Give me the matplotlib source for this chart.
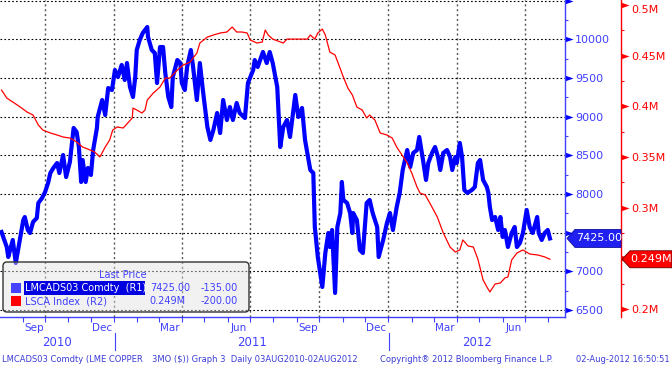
import matplotlib
matplotlib.use('Agg')
import numpy as np
import pandas as pd
import matplotlib.pyplot as plt
import matplotlib.dates as mdates
from matplotlib.patches import Rectangle, Polygon, FancyBboxPatch
from matplotlib.ticker import FixedLocator, FuncFormatter, NullFormatter
from matplotlib.transforms import IdentityTransform

# LME copper 3M price (USD/t)
copper_dates = [
    '2010-08-03', '2010-08-10', '2010-08-12', '2010-08-18', '2010-08-22', '2010-08-25', '2010-08-28',
    '2010-09-01', '2010-09-03', '2010-09-07', '2010-09-10', '2010-09-14', '2010-09-19', '2010-09-21',
    '2010-09-26', '2010-09-30', '2010-10-04', '2010-10-07', '2010-10-11', '2010-10-16', '2010-10-19',
    '2010-10-24', '2010-10-28', '2010-11-02', '2010-11-07', '2010-11-11', '2010-11-14', '2010-11-17',
    '2010-11-19', '2010-11-23', '2010-11-26', '2010-11-30', '2010-12-03', '2010-12-08', '2010-12-09',
    '2010-12-15', '2010-12-19', '2010-12-23', '2010-12-28', '2011-01-01', '2011-01-05', '2011-01-10',
    '2011-01-14', '2011-01-17', '2011-01-21', '2011-01-25', '2011-01-28', '2011-01-30', '2011-02-03',
    '2011-02-07', '2011-02-13', '2011-02-14', '2011-02-19', '2011-02-23', '2011-02-26', '2011-03-02',
    '2011-03-06', '2011-03-09', '2011-03-13', '2011-03-17', '2011-03-19', '2011-03-25', '2011-03-29',
    '2011-03-31', '2011-04-04', '2011-04-07', '2011-04-12', '2011-04-15', '2011-04-20', '2011-04-24',
    '2011-04-28', '2011-05-04', '2011-05-08', '2011-05-12', '2011-05-17', '2011-05-21', '2011-05-25',
    '2011-05-30', '2011-06-03', '2011-06-07', '2011-06-12', '2011-06-16', '2011-06-23', '2011-06-27',
    '2011-07-04', '2011-07-06', '2011-07-10', '2011-07-17', '2011-07-22', '2011-07-26', '2011-07-30',
    '2011-08-05', '2011-08-09', '2011-08-13', '2011-08-18', '2011-08-22', '2011-08-29', '2011-09-02',
    '2011-09-07', '2011-09-11', '2011-09-18', '2011-09-22', '2011-09-24', '2011-09-27', '2011-09-28',
    '2011-10-04', '2011-10-08', '2011-10-12', '2011-10-14', '2011-10-17', '2011-10-21', '2011-10-24',
    '2011-10-28', '2011-10-30', '2011-11-01', '2011-11-06', '2011-11-10', '2011-11-13', '2011-11-14',
    '2011-11-19', '2011-11-23', '2011-11-27', '2011-12-02', '2011-12-06', '2011-12-10', '2011-12-16',
    '2011-12-18', '2011-12-24', '2011-12-29', '2012-01-02', '2012-01-06', '2012-01-11', '2012-01-15',
    '2012-01-19', '2012-01-25', '2012-01-29', '2012-02-02', '2012-02-07', '2012-02-10', '2012-02-15',
    '2012-02-19', '2012-02-22', '2012-02-27', '2012-03-02', '2012-03-06', '2012-03-09', '2012-03-13',
    '2012-03-18', '2012-03-22', '2012-03-25', '2012-03-29', '2012-03-31', '2012-04-04', '2012-04-07',
    '2012-04-10', '2012-04-14', '2012-04-20', '2012-04-24', '2012-04-28', '2012-05-01', '2012-05-05',
    '2012-05-10', '2012-05-12', '2012-05-14', '2012-05-17', '2012-05-21', '2012-05-25', '2012-05-28',
    '2012-05-31', '2012-06-03', '2012-06-07', '2012-06-12', '2012-06-16', '2012-06-19', '2012-06-23',
    '2012-06-27', '2012-07-02', '2012-07-06', '2012-07-10', '2012-07-16', '2012-07-18', '2012-07-22',
    '2012-07-26', '2012-07-30', '2012-08-02',
]
copper_price = [
    7508, 7314, 7185, 7405, 7107, 7275, 7444,
    7663, 7702, 7534, 7495, 7638, 7689, 7883,
    7948, 8025, 8142, 8271, 8336, 8400, 8271,
    8504, 8219, 8413, 8853, 8801, 8607, 8155,
    8439, 8155, 8336, 8245, 8568, 8853, 8995,
    9215, 9021, 9370, 9344, 9603, 9512, 9668,
    9474, 9693, 9383, 9254, 9512, 9861, 9991,
    10081, 10159, 10030, 9861, 9823, 9435, 9900,
    9900, 9564, 9254, 9124, 9512, 9732, 9693,
    9435, 9344, 9642, 9861, 9642, 9215, 9693,
    9344, 8866, 8698, 8827, 9047, 8788, 9215,
    8956, 9124, 8956, 9176, 9047, 8982, 9435,
    9603, 9732, 9642, 9836, 9693, 9836, 9693,
    9383, 8607, 8866, 8956, 8737, 9280, 8995,
    9112, 8698, 8310, 8271, 7573, 7275, 7185,
    6797, 7237, 7495, 7314, 7534, 6720, 7573,
    7754, 8155, 7922, 7883, 7754, 7495, 7754,
    7663, 7275, 7237, 7883, 7922, 7754, 7573,
    7185, 7405, 7625, 7754, 7534, 7831, 8013,
    8310, 8568, 8349, 8530, 8568, 8737, 8439,
    8181, 8400, 8530, 8607, 8478, 8310, 8530,
    8568, 8478, 8310, 8478, 8400, 8659, 8478,
    8051, 8013, 8051, 8090, 8400, 8439, 8181,
    8090, 8013, 7831, 7663, 7702, 7534, 7702,
    7444, 7534, 7314, 7495, 7573, 7314, 7366,
    7495, 7793, 7573, 7495, 7702, 7495, 7405,
    7495, 7534, 7425.00,
]

# LME copper stocks (tonnes)
stock_dates = [
    '2010-08-03', '2010-08-10', '2010-08-18', '2010-08-28', '2010-09-06', '2010-09-14', '2010-09-21',
    '2010-09-27', '2010-10-07', '2010-10-16', '2010-10-24', '2010-11-02', '2010-11-11', '2010-11-19',
    '2010-11-29', '2010-12-05', '2010-12-12', '2010-12-19', '2010-12-25', '2010-12-29', '2011-01-04',
    '2011-01-12', '2011-01-18', '2011-01-24', '2011-01-25', '2011-01-30', '2011-02-06', '2011-02-10',
    '2011-02-13', '2011-02-21', '2011-03-02', '2011-03-09', '2011-03-15', '2011-03-25', '2011-04-02',
    '2011-04-11', '2011-04-20', '2011-04-24', '2011-05-04', '2011-05-12', '2011-05-21', '2011-05-30',
    '2011-06-06', '2011-06-12', '2011-06-19', '2011-06-26', '2011-06-30', '2011-07-09', '2011-07-16',
    '2011-07-20', '2011-07-24', '2011-07-30', '2011-08-13', '2011-08-18', '2011-08-26', '2011-09-14',
    '2011-09-18', '2011-09-24', '2011-09-28', '2011-10-04', '2011-10-08', '2011-10-14', '2011-10-21',
    '2011-10-25', '2011-11-01', '2011-11-07', '2011-11-13', '2011-11-19', '2011-11-26', '2011-12-02',
    '2011-12-06', '2011-12-13', '2011-12-20', '2011-12-29', '2012-01-05', '2012-01-11', '2012-01-18',
    '2012-01-25', '2012-01-31', '2012-02-07', '2012-02-11', '2012-02-18', '2012-02-24', '2012-03-05',
    '2012-03-13', '2012-03-22', '2012-03-29', '2012-04-04', '2012-04-08', '2012-04-15', '2012-04-22',
    '2012-04-28', '2012-05-05', '2012-05-10', '2012-05-14', '2012-05-21', '2012-05-28', '2012-06-03',
    '2012-06-07', '2012-06-12', '2012-06-19', '2012-06-27', '2012-07-06', '2012-07-17', '2012-07-26',
    '2012-08-02',
]
stock_tonnes = [
    416100, 408200, 404300, 399300, 394400, 391400, 381600,
    376600, 373700, 371700, 369700, 368700, 364800, 359800,
    356900, 354900, 350000, 359800, 366800, 376600, 379600,
    378600, 383500, 388500, 398300, 396400, 393400, 396400,
    406200, 413100, 419100, 427900, 427900, 435800, 440800,
    443700, 452600, 462500, 468400, 470400, 472400, 473400,
    478300, 473400, 473400, 472400, 465500, 462500, 463500,
    475300, 470400, 466400, 462500, 466400, 466400, 466400,
    470400, 466400, 472400, 476300, 470400, 453600, 450700,
    442800, 428900, 418100, 411200, 399300, 396400, 388500,
    391400, 386500, 373700, 371700, 368700, 359800, 352000,
    344100, 334200, 320400, 314400, 312500, 304600, 290800,
    275000, 261100, 256200, 258200, 268100, 262100, 261100,
    249300, 228600, 221700, 216700, 224600, 225600, 230500,
    231500, 248300, 255200, 258200, 254200, 253200, 251300,
    249000,
]

copper_change = -135.00
stock_change = -200.00

month_labels = ['Sep', 'Dec', 'Mar', 'Jun', 'Sep', 'Dec', 'Mar', 'Jun']
month_label_dates = ['2010-09-15', '2010-12-15', '2011-03-15', '2011-06-15',
                     '2011-09-15', '2011-12-15', '2012-03-15', '2012-06-15']
years = [2010, 2011, 2012]

W, H = 672, 367
BLUE = '#0000ff'
BLUE_TXT = '#4040ff'
RED = '#ff0000'
I = IdentityTransform()

plt.rcParams['font.family'] = 'DejaVu Sans'

fig = plt.figure(figsize=(W / 100, H / 100), dpi=100, facecolor='white')
ax = fig.add_axes([0, 1 - 317 / H, 565 / W, 317 / H])
ax2 = ax.twinx()
ax.yaxis.set_ticks_position('right')

cd = pd.to_datetime(copper_dates)
sd = pd.to_datetime(stock_dates)
ax.plot(cd, copper_price, color=BLUE, lw=3.0, solid_joinstyle='round', zorder=3)
ax2.plot(sd, stock_tonnes, color=RED, lw=0.9)

x_start, x_end = pd.Timestamp('2010-08-01'), pd.Timestamp('2012-08-22')
ax.set_xlim(x_start, x_end)
ax.set_ylim(6409, 10508)
ax2.set_ylim(192000, 505000)

# spines
for s in ['left', 'top']:
    ax.spines[s].set_visible(False)
for s in ['right', 'bottom']:
    ax.spines[s].set_color(BLUE_TXT)
    ax.spines[s].set_linewidth(1.0)
for s in ['left', 'top', 'bottom']:
    ax2.spines[s].set_visible(False)
ax2.spines['right'].set_position(('axes', 621 / 565))
ax2.spines['right'].set_color(RED)
ax2.spines['right'].set_linewidth(1.0)

last_cu = copper_price[-1]
last_st = stock_tonnes[-1]


# labels hidden behind the last-value tags, as on the terminal
def cu_fmt(v, p):
    if v > 10200 or abs(v - last_cu) < 250:
        return ''
    return '%d' % v


def st_fmt(v, p):
    if abs(v - last_st) < 25000:
        return ''
    return '%gM' % (v / 1e6)


# y ticks
ax.yaxis.set_major_locator(FixedLocator(np.arange(6500, 10501, 500)))
ax.yaxis.set_minor_locator(FixedLocator(np.arange(6500, 10501, 250)))
ax.yaxis.set_major_formatter(FuncFormatter(cu_fmt))
ax.tick_params(axis='y', which='major', length=6, pad=1.3, labelsize=8,
               labelcolor=BLUE_TXT, color=BLUE)
ax.tick_params(axis='y', which='minor', length=2.2, width=0.8, color=BLUE_TXT)

ax2.yaxis.set_major_locator(FixedLocator(np.arange(200000, 500001, 50000)))
ax2.yaxis.set_minor_locator(FixedLocator(np.arange(200000, 500001, 25000)))
ax2.yaxis.set_major_formatter(FuncFormatter(st_fmt))
ax2.tick_params(axis='y', which='major', length=6, pad=1.3, labelsize=8,
                labelcolor=RED, color=RED)
ax2.tick_params(axis='y', which='minor', length=2.2, width=0.8, color=RED)

tri = [(0, -0.35), (0, 0.35), (1, 0)]


def arrow_ticks(axis, color):
    for t in axis.get_major_ticks():
        t.tick2line.set_marker(tri)
        t.tick2line.set_markersize(11.5)
        t.tick2line.set_markerfacecolor(color)
        t.tick2line.set_markeredgewidth(0)


arrow_ticks(ax.yaxis, BLUE)
arrow_ticks(ax2.yaxis, RED)
ax2.yaxis.get_major_ticks()[-1].label2.set_va('top')

# x ticks and grid
month_ends = pd.date_range('2010-08-31', '2012-07-31', freq=pd.offsets.MonthEnd())
quarter_ends = month_ends[month_ends.month % 3 == 0]
ax.xaxis.set_major_locator(FixedLocator(mdates.date2num(quarter_ends)))
ax.xaxis.set_minor_locator(FixedLocator(mdates.date2num(month_ends)))
ax.xaxis.set_major_formatter(NullFormatter())
ax.tick_params(axis='x', which='both', length=3.5, width=0.8, color=BLUE_TXT, direction='out')

ax.grid(axis='y', which='major', color='black', linestyle=(0, (1.5, 2)), linewidth=0.8)
ax.grid(axis='x', which='major', color='#555555', linestyle=(0, (1.5, 2)), linewidth=1.0)

xt = ax.get_xaxis_transform()
for d, s in zip(pd.to_datetime(month_label_dates), month_labels):
    ax.text(d, -0.035, s, transform=xt, ha='center', va='center', fontsize=7.5, color=BLUE_TXT)

bounds = [x_start, pd.Timestamp('2011-01-01'), pd.Timestamp('2012-01-01'), x_end]
for i, yr in enumerate(years):
    mid = bounds[i] + (bounds[i + 1] - bounds[i]) / 2
    ax.text(mid, -0.08, str(yr), transform=xt, ha='center', va='center', fontsize=8.5, color=BLUE_TXT)
for b in bounds[1:-1]:
    ax.plot([b, b], [-0.05, -0.105], transform=xt, color=BLUE_TXT, lw=0.8, clip_on=False)
ax.set_xlim(x_start, x_end)

# last value tags
bx, by = ax.get_yaxis_transform().transform((1, last_cu))
fig.add_artist(Polygon([(bx + 2, by), (bx + 10, by + 9), (bx + 56, by + 9), (bx + 56, by - 9),
                        (bx + 10, by - 9)], closed=True, fc='#2020f0', ec='#1010a0', lw=0.6, transform=I))
fig.text(bx + 11, by, '%.2f' % last_cu, transform=I, color='white', fontsize=8,
         ha='left', va='center')

rx, ry = ax2.get_yaxis_transform().transform((621 / 565, last_st))
fig.add_artist(Polygon([(rx + 1, ry), (rx + 9, ry + 8.5), (W, ry + 8.5), (W, ry - 8.5),
                        (rx + 9, ry - 8.5)], closed=True, fc=RED, ec='#600000', lw=0.6, transform=I))
fig.text(rx + 9.5, ry, '%.3fM' % (last_st / 1e6), transform=I, color='white', fontsize=8,
         ha='left', va='center')

# legend box
fig.add_artist(FancyBboxPatch((3, H - 312), 246, 50, boxstyle='round,pad=0,rounding_size=4',
                              fc=(0.88, 0.88, 0.88, 0.45), ec='#333333', lw=1.0, transform=I))
fig.text(123, H - 275, 'Last Price', transform=I, color=BLUE_TXT, fontsize=7, ha='center', va='center')
fig.add_artist(Rectangle((11, H - 293), 10, 10, fc='#4444ff', ec='none', transform=I))
fig.add_artist(Rectangle((11, H - 306), 10, 10, fc=RED, ec='none', transform=I))
fig.add_artist(Rectangle((24, H - 295), 121, 14, fc='#0000e0', ec='none', transform=I))
fig.text(25, H - 288, 'LMCADS03 Comdty  (R1)', transform=I, color='white', fontsize=7, va='center')
fig.text(25, H - 301, 'LSCA Index  (R2)', transform=I, color=BLUE_TXT, fontsize=7, va='center')
fig.text(190, H - 288, '%.2f' % last_cu, transform=I, color=BLUE_TXT, fontsize=7,
         ha='right', va='center')
fig.text(238, H - 288, '%.2f' % copper_change, transform=I, color=BLUE_TXT, fontsize=7,
         ha='right', va='center')
fig.text(185, H - 301, '%.3fM' % (last_st / 1e6), transform=I, color=BLUE_TXT, fontsize=7,
         ha='right', va='center')
fig.text(238, H - 301, '%.2f' % stock_change, transform=I, color=BLUE_TXT, fontsize=7,
         ha='right', va='center')

# footer
foot = dict(transform=I, color='#3c3cd8', fontsize=6, va='center')
fig.text(2, H - 359, 'LMCADS03 Comdty (LME COPPER', **foot)
fig.text(152, H - 359, '3MO ($)) Graph 3  Daily 03AUG2010-02AUG2012', **foot)
fig.text(380, H - 359, 'Copyright\u00ae 2012 Bloomberg Finance L.P.', **foot)
fig.text(670, H - 359, '02-Aug-2012 16:50:51', ha='right', **foot)

fig.savefig('out.png', dpi=100, facecolor='white')
